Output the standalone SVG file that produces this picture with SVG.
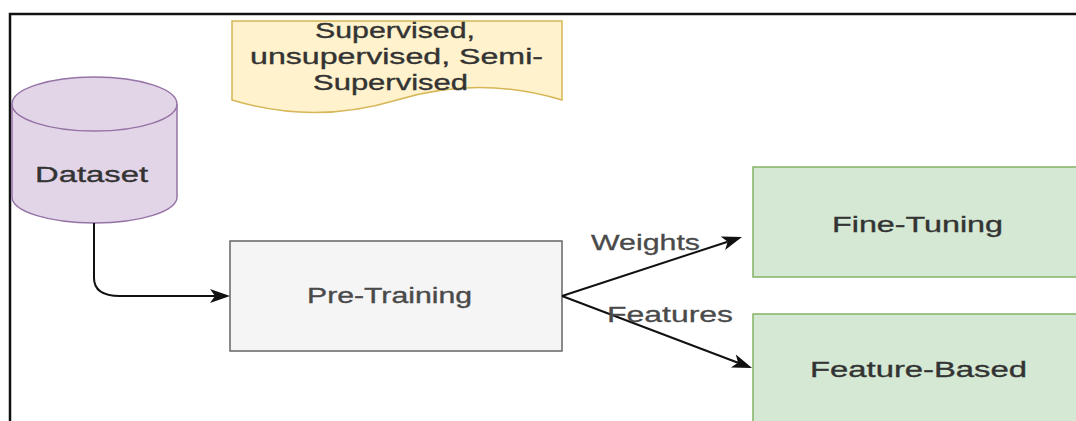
<svg xmlns="http://www.w3.org/2000/svg" width="1076" height="421" viewBox="0 0 1076 421">
  <style>
    .lbl { font-family: "Liberation Sans", Arial, sans-serif; font-size: 22px; fill: #333333; stroke: #333333; stroke-width: 0.35; }
    .edge-lbl { font-family: "Liberation Sans", Arial, sans-serif; font-size: 22px; fill: #4a4a4a; stroke: #4a4a4a; stroke-width: 0.3; }
    .conn { fill: none; stroke: #111111; stroke-width: 2; }
    .frame { fill: none; stroke: #111111; stroke-width: 2.5; }
  </style>
  <defs>
    <marker id="arrow" markerUnits="userSpaceOnUse" markerWidth="22" markerHeight="16" refX="5" refY="7" orient="auto">
      <path d="M0,0 L20,7 L0,14 L5,7 Z" fill="#111111"/>
    </marker>
  </defs>

  <rect width="1076" height="421" fill="#ffffff"/>

  <!-- outer frame: top and left edges -->
  <path class="frame" d="M10,421 V14 H1076"/>

  <!-- learning modes note -->
  <g id="note-learning-modes">
    <path d="M232,21 H562 V100 Q479,75 397,100 Q314,125 232,100 Z" fill="#fff2cc" stroke="#d6b656" stroke-width="1.5"/>
    <text class="lbl" x="315" y="38" textLength="160" lengthAdjust="spacingAndGlyphs">Supervised,</text>
    <text class="lbl" x="250" y="64" textLength="293" lengthAdjust="spacingAndGlyphs">unsupervised, Semi-</text>
    <text class="lbl" x="313" y="90" textLength="155" lengthAdjust="spacingAndGlyphs">Supervised</text>
  </g>

  <!-- dataset cylinder -->
  <g id="node-dataset">
    <path d="M12,104 V197 A82.5,26 0 0 0 177,197 V104" fill="#e1d5e7" stroke="#9673a6" stroke-width="1.5"/>
    <ellipse cx="94.5" cy="104" rx="82.5" ry="27" fill="#e1d5e7" stroke="#9673a6" stroke-width="1.5"/>
    <text class="lbl" x="35" y="182" textLength="113" lengthAdjust="spacingAndGlyphs">Dataset</text>
  </g>

  <!-- pre-training -->
  <g id="node-pretraining">
    <rect x="230" y="241" width="332" height="110" fill="#f5f5f5" stroke="#666666" stroke-width="1.5"/>
    <text class="lbl" x="307" y="303" textLength="165" lengthAdjust="spacingAndGlyphs" style="fill:#4a4a4a;stroke:#4a4a4a">Pre-Training</text>
  </g>

  <!-- fine-tuning -->
  <g id="node-finetuning">
    <rect x="753" y="167" width="335" height="110" fill="#d5e8d4" stroke="#82b366" stroke-width="1.5"/>
    <text class="lbl" x="832" y="232" textLength="171" lengthAdjust="spacingAndGlyphs">Fine-Tuning</text>
  </g>

  <!-- feature-based -->
  <g id="node-featurebased">
    <rect x="753" y="314" width="335" height="120" fill="#d5e8d4" stroke="#82b366" stroke-width="1.5"/>
    <text class="lbl" x="810" y="377" textLength="217" lengthAdjust="spacingAndGlyphs">Feature-Based</text>
  </g>

  <!-- connectors -->
  <g id="connectors">
    <path class="conn" d="M94,223 V278 Q94,296 120,296 H215" marker-end="url(#arrow)"/>
    <path class="conn" d="M562,296 L727.7,241.7" marker-end="url(#arrow)"/>
    <path class="conn" d="M562,296 L738,362.7" marker-end="url(#arrow)"/>
    <text class="edge-lbl" x="591" y="250" textLength="109" lengthAdjust="spacingAndGlyphs">Weights</text>
    <text class="edge-lbl" x="607" y="322" textLength="126" lengthAdjust="spacingAndGlyphs">Features</text>
  </g>
</svg>
